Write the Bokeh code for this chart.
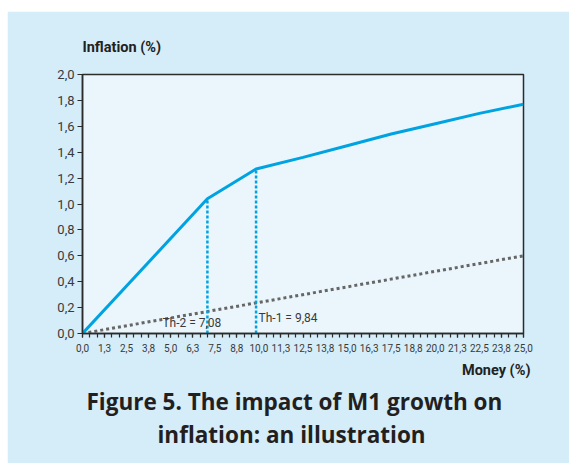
from bokeh.plotting import figure
from bokeh.models import Range1d, FixedTicker, Label, Title
from bokeh.embed import file_html
from bokeh.resources import INLINE

# ---- data ----
money = [0.0, 7.08, 9.84, 12.5, 15.0, 17.5, 20.0, 22.5, 25.0]
inflation = [0.0, 1.04, 1.27, 1.36, 1.45, 1.54, 1.62, 1.70, 1.77]
base_x = [0.0, 25.0]
base_y = [0.0, 0.60]
thresholds = [7.08, 9.84]
threshold_y = [1.04, 1.27]
threshold_labels = ["Th-2 = 7,08", "Th-1 = 9,84"]
x_ticks = [i * 1.25 for i in range(21)]
x_tick_labels = ["0,0", "1,3", "2,5", "3,8", "5,0", "6,3", "7,5", "8,8", "10,0", "11,3",
                 "12,5", "13,8", "15,0", "16,3", "17,5", "18,8", "20,0", "21,3", "22,5",
                 "23,8", "25,0"]
x_minor = [i * 1.25 / 3 for i in range(61)]
y_ticks = [i * 0.2 for i in range(11)]
y_tick_labels = ["0,0", "0,2", "0,4", "0,6", "0,8", "1,0", "1,2", "1,4", "1,6", "1,8", "2,0"]

BG = "#d5ecf9"
BLUE = "#00a3e2"
DARK = "#2b2b2b"
NARROW = "Roboto"

p = figure(width=562, height=452, output_backend="svg", toolbar_location=None,
           x_range=Range1d(0, 25), y_range=Range1d(0, 2))
p.margin = (11, 0, 0, 7)
p.min_border_left = 75
p.min_border_right = 46
p.min_border_top = 63
p.min_border_bottom = 130
p.border_fill_color = BG
p.background_fill_color = "#eaf6fc"
p.outline_line_color = DARK
p.outline_line_width = 1.5
p.xgrid.visible = False
p.ygrid.visible = False

xa = p.xaxis[0]
xa.ticker = FixedTicker(ticks=x_ticks, minor_ticks=x_minor)
xa.major_label_overrides = {t: l for t, l in zip(x_ticks, x_tick_labels)}
xa.major_label_text_font = NARROW
xa.major_label_text_font_size = "10px"
xa.major_label_text_color = "#3a3a3a"
xa.major_tick_in = 0
xa.major_tick_out = 4
xa.minor_tick_in = 0
xa.minor_tick_out = 4
xa.axis_line_color = DARK
xa.axis_line_width = 1.5
xa.major_tick_line_color = DARK
xa.minor_tick_line_color = DARK
xa.major_tick_line_width = 1.2
xa.minor_tick_line_width = 1.2
xa.major_label_standoff = 6

ya = p.yaxis[0]
ya.ticker = FixedTicker(ticks=y_ticks, minor_ticks=[])
ya.major_label_overrides = {t: l for t, l in zip(y_ticks, y_tick_labels)}
ya.major_label_text_font = NARROW
ya.major_label_text_font_size = "13px"
ya.major_label_text_color = "#3a3a3a"
ya.major_tick_in = 0
ya.major_tick_out = 5
ya.minor_tick_line_color = None
ya.axis_line_color = DARK
ya.axis_line_width = 1.5
ya.major_tick_line_color = DARK
ya.major_tick_line_width = 1.2
ya.major_label_standoff = 3

# lines
p.line(base_x, base_y, line_color="#666666", line_width=3, line_dash="3 3")
p.segment(x0=thresholds, y0=[0, 0], x1=thresholds, y1=threshold_y,
          line_color=BLUE, line_width=2.5, line_dash="3 2")
p.line(money, inflation, line_color=BLUE, line_width=3)

# threshold labels
p.add_layout(Label(x=6.2, y=0.03, text=threshold_labels[0], text_align="center",
                   text_font=NARROW, text_font_size="12px", text_color="#3a3a3a"))
p.add_layout(Label(x=9.98, y=0.066, text=threshold_labels[1], text_align="left",
                   text_font=NARROW, text_font_size="12px", text_color="#3a3a3a"))

# axis titles
p.add_layout(Title(text="Inflation (%)", align="left", standoff=38,
                   text_font=NARROW, text_font_style="bold", text_font_size="14.5px",
                   text_color="#222222"), "above")
p.add_layout(Title(text="Money (%)", align="right", offset=-7, standoff=10,
                   text_font=NARROW, text_font_style="bold", text_font_size="14.5px",
                   text_color="#222222"), "below")

# caption
p.add_layout(Title(text="Figure 5. The impact of M1 growth on", align="left",
                   offset=4, standoff=0, text_font="Open Sans", text_font_style="bold",
                   text_font_size="22.5px", text_color="#231f20"), "below")
p.add_layout(Title(text="inflation: an illustration", align="left",
                   offset=75, standoff=0, text_font="Open Sans", text_font_style="bold",
                   text_font_size="22.5px", text_color="#231f20"), "below")

open("out.html", "w").write(file_html(p, INLINE))
